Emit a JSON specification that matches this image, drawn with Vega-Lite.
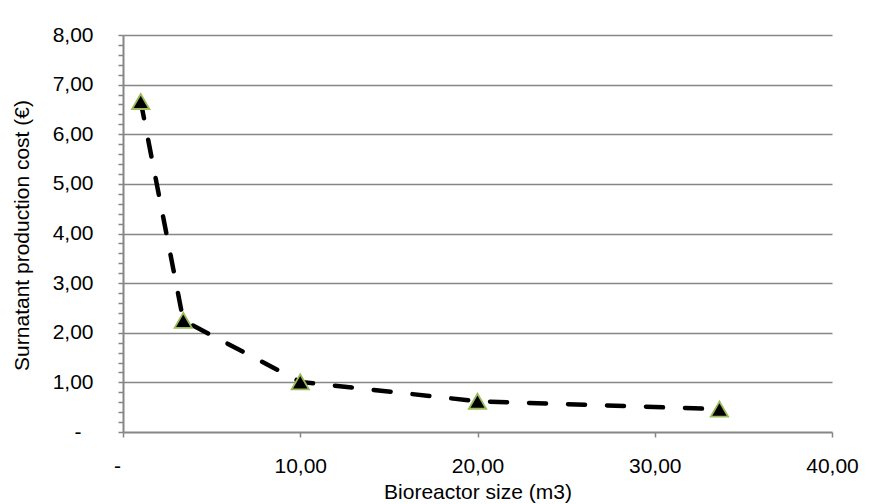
{
  "$schema": "https://vega.github.io/schema/vega-lite/v6.json",
  "width": 709,
  "height": 397,
  "autosize": {"type": "none"},
  "padding": {"left": 123, "top": 35, "right": 63, "bottom": 72},
  "background": "white",
  "config": {
    "view": {"stroke": null},
    "font": "Liberation Sans",
    "axis": {
      "labelFont": "Liberation Sans",
      "titleFont": "Liberation Sans",
      "labelColor": "black",
      "titleColor": "black",
      "labelFontSize": 21,
      "titleFontSize": 21,
      "titleFontWeight": "normal",
      "domainColor": "#868686",
      "domainWidth": 2,
      "tickColor": "#868686",
      "tickWidth": 1.5,
      "tickSize": 5,
      "gridColor": "#868686",
      "gridWidth": 1.5
    }
  },
  "data": {
    "values": [
      {"size": 1.0, "cost": 6.66},
      {"size": 3.4, "cost": 2.25},
      {"size": 10.0, "cost": 1.01},
      {"size": 20.0, "cost": 0.62},
      {"size": 33.65, "cost": 0.46}
    ]
  },
  "layer": [
    {
      "mark": {"type": "line", "color": "black", "strokeWidth": 4.5, "strokeDash": [17, 22], "strokeCap": "round", "clip": false},
      "encoding": {
        "x": {
          "field": "size", "type": "quantitative",
          "scale": {"domain": [0, 40], "nice": false, "zero": false},
          "axis": {
            "values": [0, 10, 20, 30, 40],
            "tickCount": 5,
            "grid": false,
            "title": "Bioreactor size (m3)",
            "titleY": 66,
            "titleBaseline": "alphabetic",
            "labelBaseline": "alphabetic",
            "labelPadding": 35,
            "labelFlush": false,
            "labelOverlap": false,
            "labelOffset": {"condition": {"test": "datum.value == 0", "value": -6}, "value": 0},
            "labelExpr": "datum.value == 0 ? '-' : replace(format(datum.value, '.2f'), '.', ',')"
          }
        },
        "y": {
          "field": "cost", "type": "quantitative",
          "scale": {"domain": [0, 8], "nice": false, "zero": true},
          "axis": {
            "values": [0, 0.2, 0.4, 0.6, 0.8, 1, 1.2, 1.4, 1.6, 1.8, 2, 2.2, 2.4, 2.6, 2.8, 3, 3.2, 3.4, 3.6, 3.8, 4, 4.2, 4.4, 4.6, 4.8, 5, 5.2, 5.4, 5.6, 5.8, 6, 6.2, 6.4, 6.6, 6.8, 7, 7.2, 7.4, 7.6, 7.8, 8],
            "tickCount": 41,
            "grid": true,
            "gridOpacity": {"condition": {"test": "abs(datum.value - round(datum.value)) < 0.001 && datum.value > 0", "value": 1}, "value": 0},
            "title": "Surnatant production cost (€)",
            "titleX": -95,
            "titleY": 200,
            "titleAngle": -90,
            "titleAlign": "center",
            "titleBaseline": "alphabetic",
            "labelPadding": {"condition": {"test": "datum.value == 0", "value": 37}, "value": 25},
            "labelBaseline": "middle",
            "labelFlush": false,
            "labelOverlap": false,
            "labelExpr": "abs(datum.value - round(datum.value)) < 0.001 ? (datum.value == 0 ? '-' : replace(format(datum.value, '.2f'), '.', ',')) : ''"
          }
        }
      }
    },
    {
      "mark": {"type": "point", "shape": "triangle-up", "filled": true, "fill": "black", "stroke": "#9bbb59", "strokeWidth": 1.8, "size": 300, "opacity": 1, "clip": false},
      "encoding": {
        "x": {"field": "size", "type": "quantitative"},
        "y": {"field": "cost", "type": "quantitative"}
      }
    }
  ]
}
